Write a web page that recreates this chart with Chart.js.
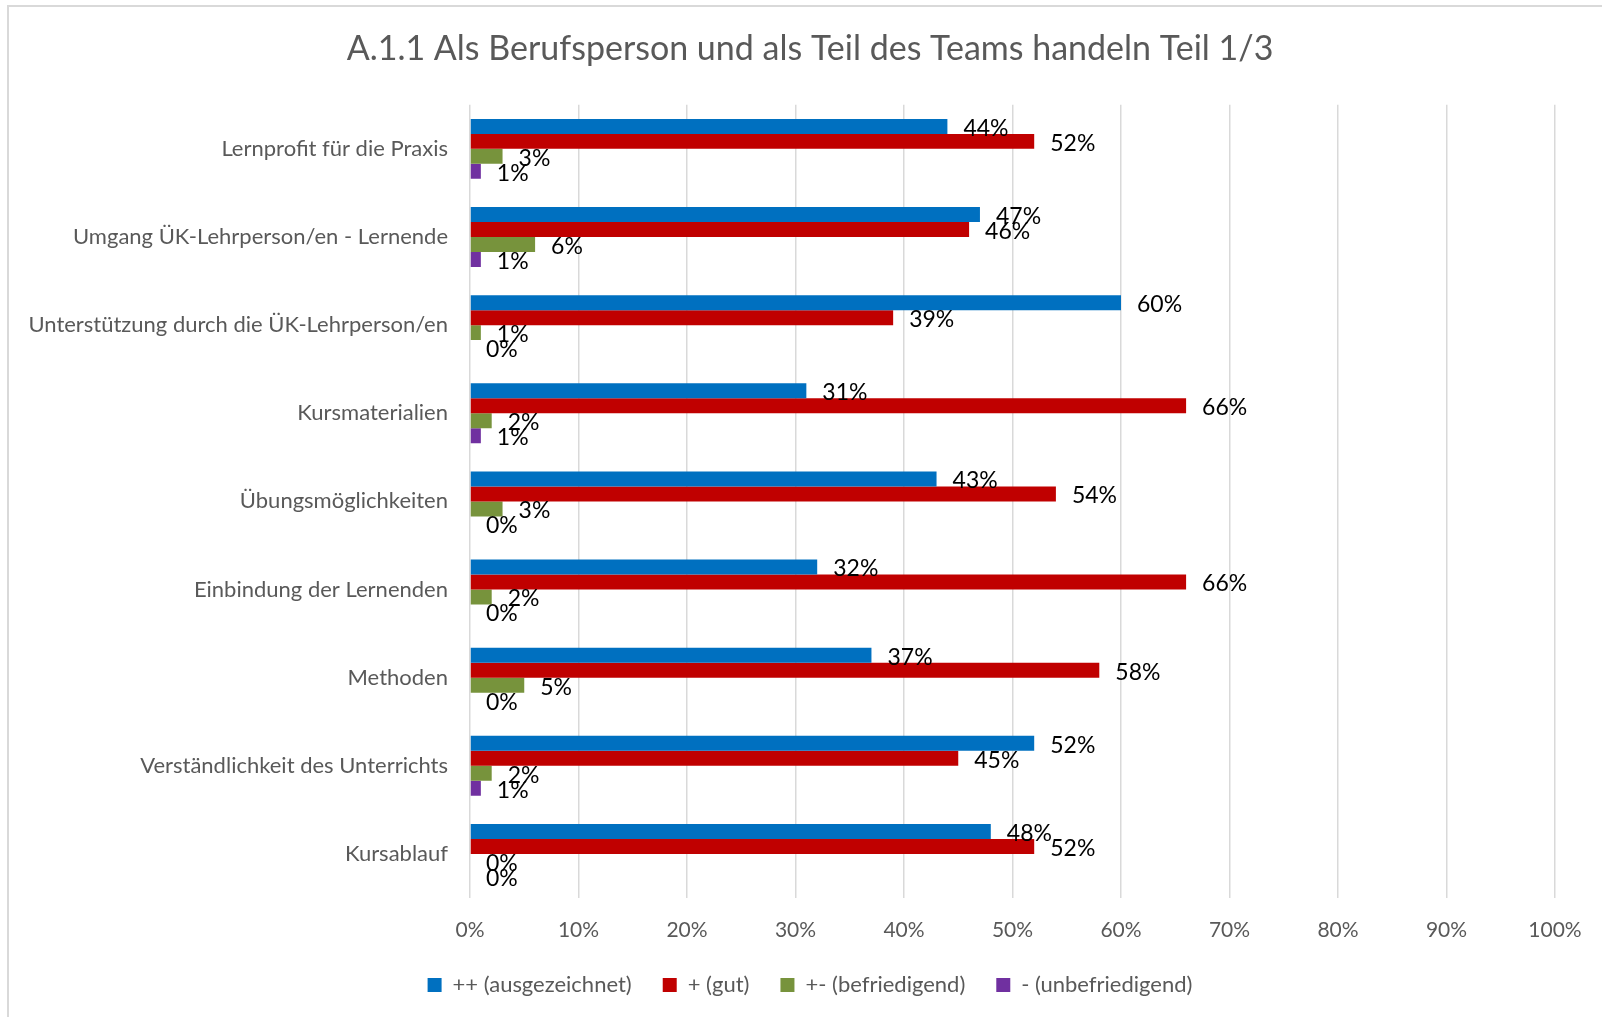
<!DOCTYPE html>
<html>
<head>
<meta charset="utf-8">
<title>A.1.1 Als Berufsperson und als Teil des Teams handeln Teil 1/3</title>
<script src="https://cdn.jsdelivr.net/npm/chart.js@4.4.1/dist/chart.umd.min.js"></script>
<style>
	html, body { margin: 0; padding: 0; background: #fff; overflow: hidden; }
	#frame { position: absolute; left: 7px; top: 5px; width: 1700px; height: 1100px; border: 2px solid #d9d9d9; }
	#barChart { position: absolute; left: 0; top: 0; }
</style>
</head>
<body>
<div id="frame"></div>
<canvas id="barChart" width="1620" height="1017"></canvas>
<script>
	var categories = ["Lernprofit für die Praxis", "Umgang ÜK-Lehrperson/en - Lernende", "Unterstützung durch die ÜK-Lehrperson/en", "Kursmaterialien", "Übungsmöglichkeiten", "Einbindung der Lernenden", "Methoden", "Verständlichkeit des Unterrichts", "Kursablauf"];
	var seriesNames = ["++ (ausgezeichnet)", "+ (gut)", "+- (befriedigend)", "- (unbefriedigend)"];
	var excellent = [44, 47, 60, 31, 43, 32, 37, 52, 48];
	var good = [52, 46, 39, 66, 54, 66, 58, 45, 52];
	var satisfactory = [3, 6, 1, 2, 3, 2, 5, 2, 0];
	var unsatisfactory = [1, 1, 0, 1, 0, 0, 0, 1, 0];
	var percentTicks = [0, 10, 20, 30, 40, 50, 60, 70, 80, 90, 100];

	var fontFamily = "Lato, 'Open Sans', sans-serif";

	// labels right of each bar, like excel data labels
	var valueLabels = {
		id: 'valueLabels',
		afterDatasetsDraw: function(chart) {
			var ctx = chart.ctx;
			ctx.save();
			ctx.font = "23px " + fontFamily;
			ctx.fillStyle = '#000000';
			ctx.textAlign = 'left';
			ctx.textBaseline = 'middle';
			chart.data.datasets.forEach(function(ds, i) {
				chart.getDatasetMeta(i).data.forEach(function(bar, j) {
					ctx.fillText(ds.data[j] + '%', bar.x + 16, bar.y + 2);
				});
			});
			ctx.restore();
		}
	};

	var ctxB = document.getElementById("barChart").getContext('2d');
	var myBarChart = new Chart(ctxB, {
		type: 'bar',
		data: {
			labels: categories,
			datasets: [{
					label: seriesNames[0],
					data: excellent,
					backgroundColor: '#0070C0'
				},
				{
					label: seriesNames[1],
					data: good,
					backgroundColor: '#C00000'
				},
				{
					label: seriesNames[2],
					data: satisfactory,
					backgroundColor: '#77933C'
				},
				{
					label: seriesNames[3],
					data: unsatisfactory,
					backgroundColor: '#7030A0'
				}
			]
		},
		options: {
			indexAxis: 'y',
			responsive: false,
			devicePixelRatio: 1,
			animation: false,
			datasets: {
				bar: {
					categoryPercentage: 0.68,
					barPercentage: 1.0
				}
			},
			layout: {
				padding: { left: 0, right: 0, top: 0, bottom: 11 }
			},
			scales: {
				x: {
					min: 0,
					max: 100,
					afterBuildTicks: function(scale) {
						scale.ticks = percentTicks.map(function(v) { return { value: v }; });
					},
					afterFit: function(scale) { scale.height = 45; },
					grid: { color: '#d9d9d9', lineWidth: 1.5, drawTicks: false },
					border: { display: false },
					ticks: {
						padding: 20,
						color: '#595959',
						font: { family: fontFamily, size: 21 },
						callback: function(v) { return v + '%'; }
					}
				},
				y: {
					afterFit: function(scale) { scale.width = 470; },
					grid: { display: false, drawTicks: false },
					border: { display: false },
					ticks: {
						padding: 22,
						color: '#595959',
						font: { family: fontFamily, size: 22 }
					}
				},
				spacer: {
					type: 'category',
					position: 'right',
					labels: [''],
					afterFit: function(scale) { scale.width = 65; },
					grid: { display: false, drawTicks: false },
					border: { display: false },
					ticks: { display: false }
				}
			},
			plugins: {
				title: {
					display: true,
					text: 'A.1.1 Als Berufsperson und als Teil des Teams handeln Teil 1/3',
					color: '#595959',
					font: { family: fontFamily, size: 34, weight: 'normal', lineHeight: 1.2 },
					padding: { top: 29, bottom: 35 }
				},
				legend: {
					position: 'bottom',
					labels: {
						boxWidth: 14,
						boxHeight: 14,
						padding: 31,
						color: '#595959',
						font: { family: fontFamily, size: 22 }
					}
				},
				tooltip: { enabled: false }
			}
		},
		plugins: [valueLabels]
	});
</script>
</body>
</html>
